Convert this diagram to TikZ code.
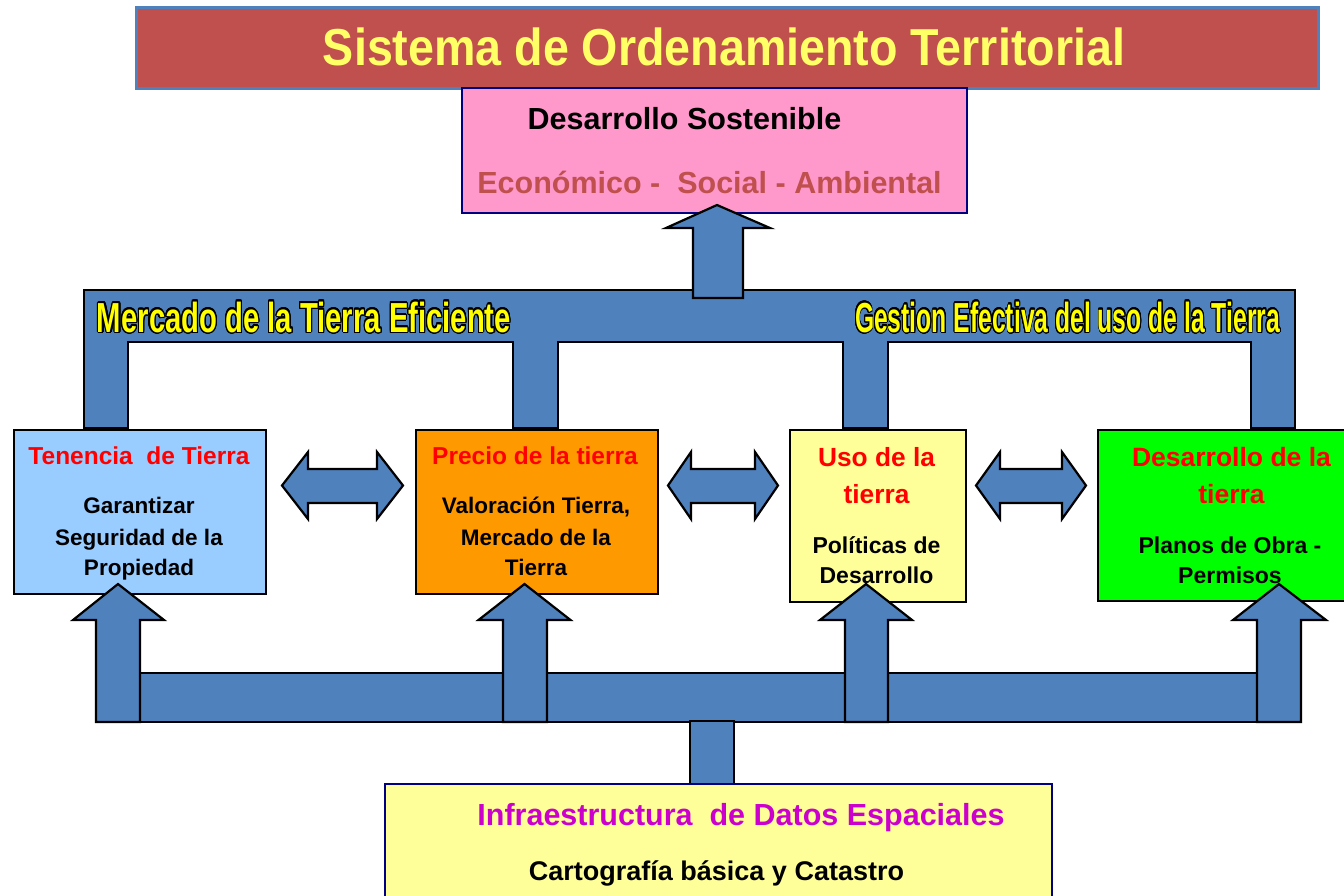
\documentclass[tikz,border=0pt]{standalone}
\usepackage{fontspec}
\setmainfont{Liberation Sans}
\usepackage{graphicx}
\usepackage{contour}
\contourlength{1.5pt}
\contournumber{24}
\definecolor{titlered}{HTML}{C0504D}
\definecolor{titleyellow}{HTML}{FFFF66}
\definecolor{titleedge}{HTML}{4F81BD}
\definecolor{pinkfill}{HTML}{FF99CC}
\definecolor{navyedge}{HTML}{000080}
\definecolor{pipeblue}{HTML}{4F81BD}
\definecolor{lightblue}{HTML}{99CCFF}
\definecolor{orangefill}{HTML}{FF9900}
\definecolor{paleyellow}{HTML}{FFFF99}
\definecolor{brightgreen}{HTML}{00FF00}
\definecolor{headred}{HTML}{FF0000}
\definecolor{idemagenta}{HTML}{CC00CC}
\definecolor{ecored}{HTML}{C0504D}
\definecolor{labelyellow}{HTML}{FFFF00}
\newcommand{\fitw}[2]{\resizebox{#1}{\height}{#2}}
\begin{document}
\begin{tikzpicture}[x=1pt,y=-1pt,
  pipe/.style={fill=pipeblue,draw=black,line width=2.2pt,line join=miter},
  boxshape/.style={rectangle,draw=black,line width=2pt,inner sep=0pt,anchor=north west},
  txt/.style={anchor=base,inner sep=0pt,font=\bfseries},
  headtxt/.style={txt,text=headred},
  bodytxt/.style={txt,text=black}]
\useasboundingbox (0,0) rectangle (1344,895);
\clip (0,0) rectangle (1344,895);

% top pipe with drops
\path[pipe] (84,428) -- (84,290) -- (1295,290) -- (1295,428) -- (1251,428) -- (1251,342)
  -- (888,342) -- (888,428) -- (843,428) -- (843,342) -- (558,342) -- (558,428)
  -- (513,428) -- (513,342) -- (128,342) -- (128,428) -- cycle;
\node[txt] (lblmercado) at (304,332)
  {\fitw{414pt}{\contour{black}{\textcolor{labelyellow}{\fontsize{42}{48}\selectfont Mercado de la Tierra Eficiente}}}};
\node[txt] (lblgestion) at (1067.5,332)
  {\fitw{425pt}{\contour{black}{\textcolor{labelyellow}{\fontsize{42}{48}\selectfont Gestion Efectiva del uso de la Tierra}}}};

% title
\node[boxshape,draw=titleedge,line width=2.5pt,fill=titlered,minimum width=1182pt,minimum height=81pt] (title) at (135,6) {};
\node[txt,text=titleyellow] (titletxt) at (724,65)
  {\fitw{802pt}{\fontsize{52}{60}\selectfont Sistema de Ordenamiento Territorial}};

% sustainable development box
\node[boxshape,draw=navyedge,fill=pinkfill,minimum width=505pt,minimum height=125pt] (pink) at (461,87) {};
\node[bodytxt,font=\bfseries\fontsize{30.5}{36}\selectfont] (pinkA) at (684.5,129) {Desarrollo Sostenible};
\node[txt,text=ecored,font=\bfseries\fontsize{30.5}{36}\selectfont] (pinkB) at (709.5,193) {Económico -\ \ Social - Ambiental};

% arrow up to pink box
\path[pipe] (693,298) -- (693,228) -- (666,228) -- (717,205) -- (770,228) -- (743,228) -- (743,298) -- cycle;

% middle boxes
\node[boxshape,fill=lightblue,minimum width=252pt,minimum height=164pt] (ten) at (13,429) {};
\node[boxshape,fill=orangefill,minimum width=242pt,minimum height=164pt] (pre) at (415,429) {};
\node[boxshape,fill=paleyellow,minimum width=176pt,minimum height=172pt] (uso) at (789,429) {};
\node[boxshape,fill=brightgreen,minimum width=270pt,minimum height=171pt] (des) at (1097,429) {};

\node[headtxt,font=\bfseries\fontsize{24.5}{30}\selectfont] (tenA) at (139,464) {Tenencia\ \ de Tierra};
\node[bodytxt,font=\bfseries\fontsize{22.5}{28}\selectfont] (tenB) at (139,513) {Garantizar};
\node[bodytxt,font=\bfseries\fontsize{22.5}{28}\selectfont] (tenC) at (139,545) {Seguridad de la};
\node[bodytxt,font=\bfseries\fontsize{22.5}{28}\selectfont] (tenD) at (139,575) {Propiedad};

\node[headtxt,font=\bfseries\fontsize{24.5}{30}\selectfont] (preA) at (535,464) {Precio de la tierra};
\node[bodytxt,font=\bfseries\fontsize{22.5}{28}\selectfont] (preB) at (536,513) {Valoración Tierra,};
\node[bodytxt,font=\bfseries\fontsize{22.5}{28}\selectfont] (preC) at (536,545) {Mercado de la};
\node[bodytxt,font=\bfseries\fontsize{22.5}{28}\selectfont] (preD) at (536,575) {Tierra};

\node[headtxt,font=\bfseries\fontsize{26.3}{32}\selectfont] (usoA) at (876.5,466) {Uso de la};
\node[headtxt,font=\bfseries\fontsize{26.3}{32}\selectfont] (usoB) at (876.5,503) {tierra};
\node[bodytxt,font=\bfseries\fontsize{23}{28}\selectfont] (usoC) at (876.5,553) {Políticas de};
\node[bodytxt,font=\bfseries\fontsize{23}{28}\selectfont] (usoD) at (876.5,583) {Desarrollo};

\node[headtxt,font=\bfseries\fontsize{26.5}{32}\selectfont] (desA) at (1231.5,466) {Desarrollo de la};
\node[headtxt,font=\bfseries\fontsize{26.5}{32}\selectfont] (desB) at (1231.5,503) {tierra};
\node[bodytxt,font=\bfseries\fontsize{23}{28}\selectfont] (desC) at (1230,553) {Planos de Obra -};
\node[bodytxt,font=\bfseries\fontsize{23}{28}\selectfont] (desD) at (1230,583) {Permisos};

% double arrows between boxes
\path[pipe] (282,485.5) -- (308,452) -- (308,469) -- (377,469) -- (377,452) -- (403,485.5)
  -- (377,519) -- (377,503) -- (308,503) -- (308,519) -- cycle;
\path[pipe] (668,485.5) -- (691,452) -- (691,469) -- (755,469) -- (755,452) -- (778,485.5)
  -- (755,519) -- (755,503) -- (691,503) -- (691,519) -- cycle;
\path[pipe] (976,485.5) -- (1000,452) -- (1000,469) -- (1062,469) -- (1062,452) -- (1086,485.5)
  -- (1062,519) -- (1062,503) -- (1000,503) -- (1000,519) -- cycle;

% bottom pipe and arrows
\path[pipe] (96,673) rectangle (1301,722);
\path[pipe] (96,722) -- (96,620) -- (73,620) -- (118,584) -- (164,620) -- (140,620) -- (140,722) -- cycle;
\path[pipe] (503,722) -- (503,620) -- (478.5,620) -- (524.5,584) -- (570.5,620) -- (547,620) -- (547,722) -- cycle;
\path[pipe] (845,722) -- (845,620) -- (820,620) -- (866,584) -- (912,620) -- (888,620) -- (888,722) -- cycle;
\path[pipe] (1257,722) -- (1257,620) -- (1233,620) -- (1279,584) -- (1326,620) -- (1301,620) -- (1301,722) -- cycle;
\path[pipe] (690,721) rectangle (734,784);

% spatial data infrastructure box
\node[boxshape,draw=navyedge,fill=paleyellow,minimum width=667pt,minimum height=130pt] (ide) at (384,783) {};
\node[txt,text=idemagenta,font=\bfseries\fontsize{30.5}{36}\selectfont] (ideA) at (741,825) {Infraestructura\ \ de Datos Espaciales};
\node[bodytxt,font=\bfseries\fontsize{27}{32}\selectfont] (ideB) at (716.5,880) {Cartografía básica y Catastro};
\end{tikzpicture}
\end{document}
